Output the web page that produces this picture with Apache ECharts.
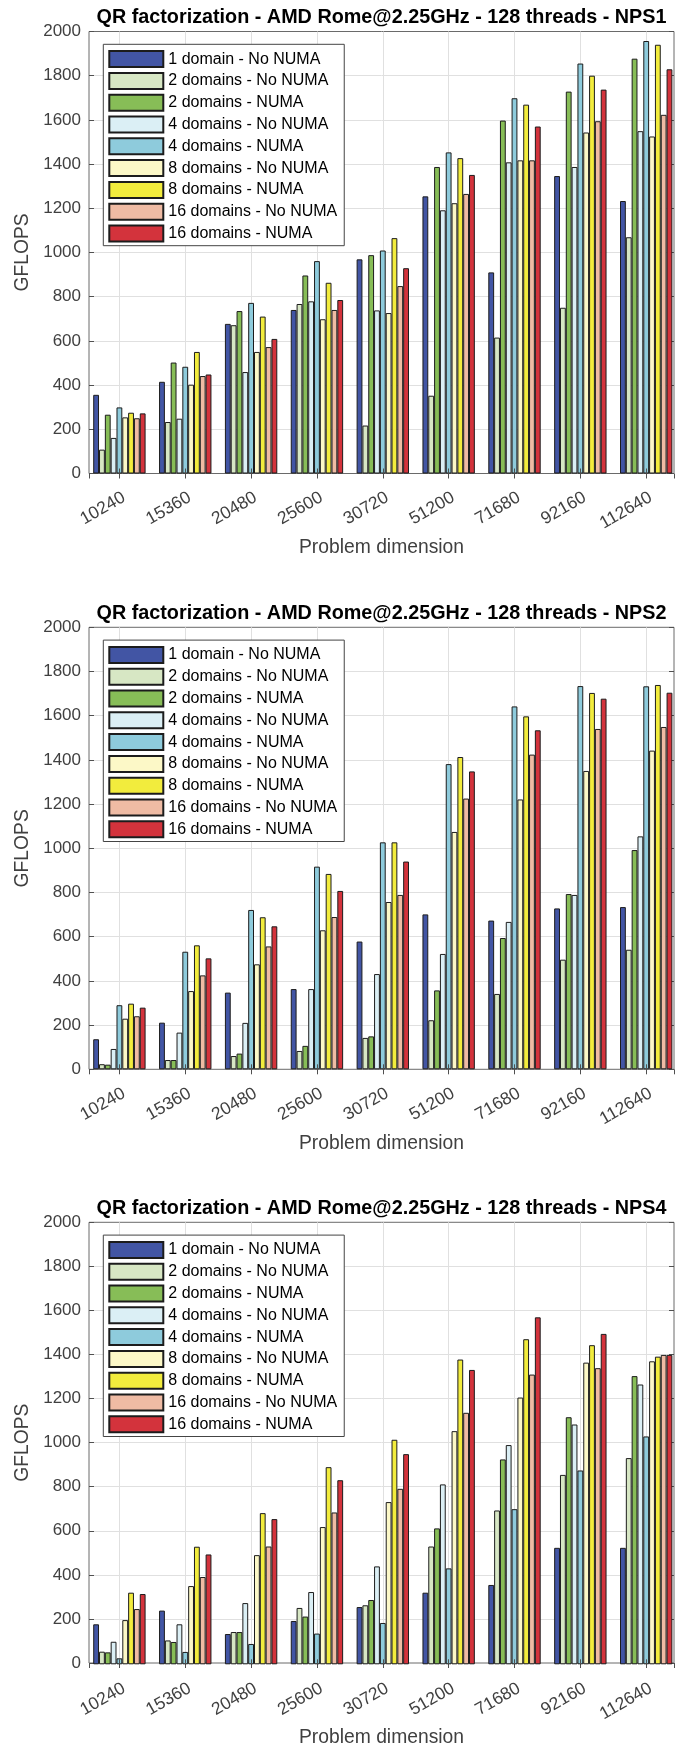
<!DOCTYPE html>
<html><head><meta charset="utf-8">
<script src="https://cdn.jsdelivr.net/npm/echarts@6/dist/echarts.min.js"></script>
<style>html,body{margin:0;padding:0;background:#fff}#chart{width:683px;height:1748px}</style>
</head><body><div id="chart"></div>
<script>
// ---------- data ----------
const categories = ['10240','15360','20480','25600','30720','51200','71680','92160','112640'];
const seriesNames = ['1 domain - No NUMA','2 domains - No NUMA','2 domains - NUMA','4 domains - No NUMA','4 domains - NUMA','8 domains - No NUMA','8 domains - NUMA','16 domains - No NUMA','16 domains - NUMA'];
const seriesColors = ['#4255a4','#d7e7c4','#87bd57','#dbeff5','#8ecbdc','#fcf8c7','#f2ec3d','#efbba4','#d3333c'];
const chartTitles = [
  'QR factorization - AMD Rome@2.25GHz - 128 threads - NPS1',
  'QR factorization - AMD Rome@2.25GHz - 128 threads - NPS2',
  'QR factorization - AMD Rome@2.25GHz - 128 threads - NPS4'
];
const yMin = 0, yMax = 2000, yStep = 200;

// NPS1
const nps1_d1_noNuma  = [356, 415, 677, 740, 969, 1254, 910, 1346, 1233];
const nps1_d2_noNuma  = [108, 233, 671, 767, 217, 352, 615, 750, 1069];
const nps1_d2_numa    = [266, 502, 735, 896, 988, 1387, 1597, 1728, 1877];
const nps1_d4_noNuma  = [161, 248, 459, 779, 738, 1191, 1408, 1387, 1549];
const nps1_d4_numa    = [299, 483, 772, 961, 1009, 1453, 1698, 1855, 1957];
const nps1_d8_noNuma  = [254, 402, 550, 698, 726, 1223, 1417, 1543, 1525];
const nps1_d8_numa    = [275, 550, 710, 863, 1065, 1427, 1669, 1800, 1940];
const nps1_d16_noNuma = [250, 441, 572, 740, 848, 1265, 1417, 1594, 1623];
const nps1_d16_numa   = [272, 448, 609, 785, 929, 1351, 1570, 1737, 1829];
// NPS2
const nps2_d1_noNuma  = [136, 211, 347, 363, 578, 701, 673, 728, 734];
const nps2_d2_noNuma  = [23, 42, 60, 83, 142, 222, 341, 496, 541];
const nps2_d2_numa    = [21, 42, 71, 106, 149, 357, 594, 793, 992];
const nps2_d4_noNuma  = [92, 166, 210, 363, 431, 522, 667, 789, 1054];
const nps2_d4_numa    = [290, 532, 721, 917, 1027, 1381, 1642, 1734, 1733];
const nps2_d8_noNuma  = [229, 354, 475, 629, 757, 1074, 1221, 1350, 1442];
const nps2_d8_numa    = [297, 561, 688, 884, 1027, 1413, 1597, 1703, 1739];
const nps2_d16_noNuma = [240, 425, 556, 689, 789, 1225, 1424, 1540, 1549];
const nps2_d16_numa   = [279, 502, 647, 807, 940, 1348, 1534, 1677, 1704];
// NPS4
const nps4_d1_noNuma  = [181, 243, 137, 196, 259, 324, 359, 527, 527];
const nps4_d2_noNuma  = [57, 108, 146, 255, 267, 533, 696, 857, 933];
const nps4_d2_numa    = [54, 101, 146, 216, 291, 615, 927, 1118, 1304];
const nps4_d4_noNuma  = [102, 181, 277, 327, 443, 814, 992, 1085, 1266];
const nps4_d4_numa    = [27, 56, 92, 139, 187, 434, 702, 877, 1031];
const nps4_d8_noNuma  = [200, 354, 494, 621, 734, 1055, 1207, 1365, 1371];
const nps4_d8_numa    = [324, 532, 684, 892, 1016, 1379, 1471, 1444, 1392];
const nps4_d16_noNuma = [250, 395, 533, 687, 794, 1138, 1311, 1340, 1400];
const nps4_d16_numa   = [318, 497, 657, 833, 951, 1332, 1570, 1495, 1400];

const nps1 = [nps1_d1_noNuma, nps1_d2_noNuma, nps1_d2_numa, nps1_d4_noNuma, nps1_d4_numa, nps1_d8_noNuma, nps1_d8_numa, nps1_d16_noNuma, nps1_d16_numa];
const nps2 = [nps2_d1_noNuma, nps2_d2_noNuma, nps2_d2_numa, nps2_d4_noNuma, nps2_d4_numa, nps2_d8_noNuma, nps2_d8_numa, nps2_d16_noNuma, nps2_d16_numa];
const nps4 = [nps4_d1_noNuma, nps4_d2_noNuma, nps4_d2_numa, nps4_d4_noNuma, nps4_d4_numa, nps4_d8_noNuma, nps4_d8_numa, nps4_d16_noNuma, nps4_d16_numa];
const dataSets = [nps1, nps2, nps4];

// ---------- layout / style ----------
const FONT = '"Liberation Sans", Arial, Helvetica, sans-serif';
const LABC = '#404040', GRIDC = '#e0e0e0', FRAMEC = '#6a6a6a', TICKC = '#505050', EDGE = '#1c1c1c';
const tops = [31.5, 627.3, 1222.3];
const H = 442;
const frameLeft = 89, frameW = 585;
const tick1 = 119.4, pitch = 65.85;
const xMin = 1 - (tick1 - frameLeft) / pitch;
const xMax = 1 + (frameLeft + frameW - tick1) / pitch;
const bandLeft = tick1 - pitch / 2, bandW = pitch * categories.length;

const grid = [], xAxis = [], yAxis = [], series = [], title = [], legend = [];
for (let c = 0; c < 3; c++) {
  const gA = 2 * c, gB = 2 * c + 1;
  grid.push({left: frameLeft, top: tops[c], width: frameW, height: H, show: true,
    borderColor: FRAMEC, borderWidth: 1, backgroundColor: 'transparent'});
  grid.push({left: bandLeft, top: tops[c], width: bandW, height: H, show: false});

  xAxis.push({type: 'value', gridIndex: gA, position: 'bottom', min: xMin, max: xMax, splitNumber: 9,
    axisLine: {show: false}, axisTick: {show: false}, axisLabel: {show: false},
    splitLine: {show: true, showMinLine: false, showMaxLine: false, lineStyle: {color: GRIDC, width: 1}},
    name: 'Problem dimension', nameLocation: 'middle', nameGap: 65,
    nameTextStyle: {fontSize: 19.3, color: LABC, fontFamily: FONT}});
  xAxis.push({type: 'value', gridIndex: gA, position: 'top', min: xMin, max: xMax, splitNumber: 9,
    axisLine: {show: false}, axisTick: {show: true, inside: true, length: 5, lineStyle: {color: TICKC}},
    axisLabel: {show: false}, splitLine: {show: false}});
  xAxis.push({type: 'category', gridIndex: gB, position: 'bottom', data: categories, z: 10,
    axisLine: {show: false},
    axisTick: {show: true, alignWithLabel: true, inside: true, length: 5, interval: 0, lineStyle: {color: TICKC}},
    axisLabel: {interval: 0, rotate: 30, margin: 15, verticalAlign: 'top',
      fontSize: 17.5, color: LABC, fontFamily: FONT},
    splitLine: {show: false}});

  yAxis.push({type: 'value', gridIndex: gA, position: 'left', min: yMin, max: yMax, interval: yStep,
    axisLine: {show: false}, axisTick: {show: true, inside: true, length: 5, lineStyle: {color: TICKC}},
    axisLabel: {fontSize: 17, color: LABC, fontFamily: FONT, margin: 8, formatter: v => String(v)},
    splitLine: {show: true, showMinLine: false, showMaxLine: false, lineStyle: {color: GRIDC, width: 1}},
    name: 'GFLOPS', nameLocation: 'middle', nameGap: 51,
    nameTextStyle: {fontSize: 19.3, color: LABC, fontFamily: FONT}});
  yAxis.push({type: 'value', gridIndex: gA, position: 'right', min: yMin, max: yMax, interval: yStep,
    axisLine: {show: false}, axisTick: {show: true, inside: true, length: 5, lineStyle: {color: TICKC}},
    axisLabel: {show: false}, splitLine: {show: false}});
  yAxis.push({type: 'value', gridIndex: gB, min: yMin, max: yMax, show: false});

  for (let s = 0; s < seriesNames.length; s++) {
    series.push({type: 'bar', name: seriesNames[s], xAxisIndex: 3 * c + 2, yAxisIndex: 3 * c + 2,
      data: dataSets[c][s], barWidth: 5.82, barGap: '0%',
      itemStyle: {color: seriesColors[s], borderColor: EDGE, borderWidth: 1},
      emphasis: {disabled: true}, z: 2});
  }

  title.push({text: chartTitles[c], left: 381.5, textAlign: 'center', top: tops[c] - 23.5, padding: 0,
    textStyle: {fontSize: 19.8, fontWeight: 'bold', color: '#000', fontFamily: FONT}});

  legend.push({data: seriesNames, orient: 'vertical', left: 103.3, top: tops[c] + 12.8,
    itemWidth: 54, itemHeight: 16, itemGap: 3.8, padding: [5.8, 7, 3.2, 5],
    backgroundColor: '#fff', borderColor: '#444', borderWidth: 1, borderRadius: 0,
    icon: 'rect', selectedMode: false,
    textStyle: {fontSize: 16, color: '#000', fontFamily: FONT, lineHeight: 16}});
}

const chart = echarts.init(document.getElementById('chart'), null, {renderer: 'canvas'});
chart.setOption({animation: false, backgroundColor: '#fff', grid, xAxis, yAxis, series, title, legend});
</script></body></html>
